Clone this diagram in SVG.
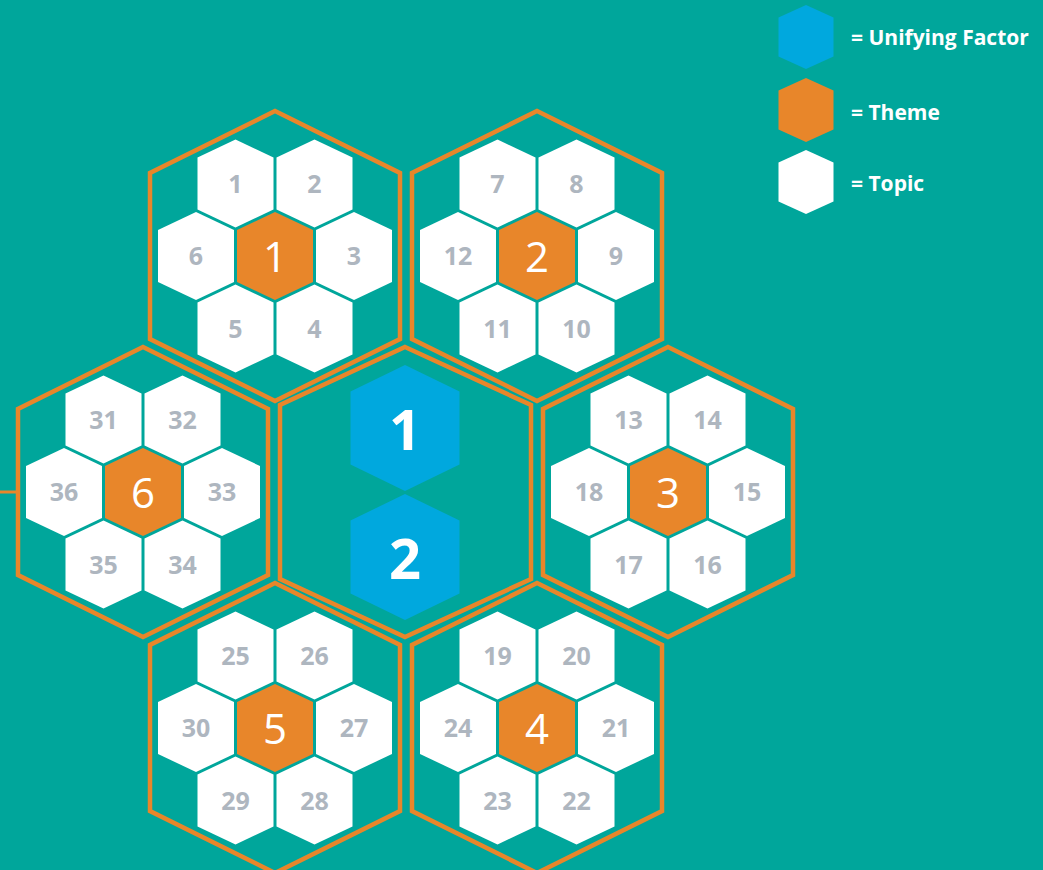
<svg xmlns="http://www.w3.org/2000/svg" xmlns:xlink="http://www.w3.org/1999/xlink" width="1043" height="870" viewBox="0 0 1043 870">
  <style>
    .frame { fill: none; stroke: #E8862A; stroke-width: 4.5; stroke-linejoin: miter; }
    .topic { fill: #FFFFFF; }
    .theme { fill: #E8862A; }
    .unify { fill: #00A8DE; }
    .tnum { font-family: "Open Sans", "Noto Sans", sans-serif; font-weight: bold; font-size: 25px; fill: #AEB6BF; text-anchor: middle; }
    .hnum { font-family: "Open Sans", "Noto Sans", sans-serif; font-weight: normal; font-size: 42px; fill: #FFFFFF; text-anchor: middle; }
    .unum { font-family: "Open Sans", "Noto Sans", sans-serif; font-weight: bold; font-size: 56px; fill: #FFFFFF; text-anchor: middle; }
    .leg { font-family: "Open Sans", "Noto Sans", sans-serif; font-weight: bold; font-size: 21px; fill: #FFFFFF; }
    .conn { stroke: #E8862A; stroke-width: 3; fill: none; }
  </style>
  <defs>
    <polygon id="big" points="0,-145 125,-83 125,83 0,145 -125,83 -125,-83"/>
    <polygon id="small" points="0,-44 38,-26 38,26 0,44 -38,26 -38,-26"/>
    <polygon id="blue" points="0,-63 54.5,-36.5 54.5,36.5 0,63 -54.5,36.5 -54.5,-36.5"/>
    <polygon id="leg" points="0,-32 27.5,-19.5 27.5,19.5 0,32 -27.5,19.5 -27.5,-19.5"/>
  </defs>
  <rect x="0" y="0" width="1043" height="870" fill="#00A69B"/>

  <g id="connectors">
    <line class="conn" x1="0" y1="492" x2="18" y2="492"/>
  </g>

  <!-- Cluster 1 -->
  <g id="cluster-1" transform="translate(275,256)">
    <use href="#big" class="frame"/>
    <use href="#small" class="topic" x="-39.5" y="-72.5"/><text class="tnum" x="-39.5" y="-63.5">1</text>
    <use href="#small" class="topic" x="39.5" y="-72.5"/><text class="tnum" x="39.5" y="-63.5">2</text>
    <use href="#small" class="topic" x="79" y="0"/><text class="tnum" x="79" y="9">3</text>
    <use href="#small" class="topic" x="39.5" y="72.5"/><text class="tnum" x="39.5" y="81.5">4</text>
    <use href="#small" class="topic" x="-39.5" y="72.5"/><text class="tnum" x="-39.5" y="81.5">5</text>
    <use href="#small" class="topic" x="-79" y="0"/><text class="tnum" x="-79" y="9">6</text>
    <use href="#small" class="theme"/><text class="hnum" x="0" y="16">1</text>
  </g>

  <!-- Cluster 2 -->
  <g id="cluster-2" transform="translate(537,256)">
    <use href="#big" class="frame"/>
    <use href="#small" class="topic" x="-39.5" y="-72.5"/><text class="tnum" x="-39.5" y="-63.5">7</text>
    <use href="#small" class="topic" x="39.5" y="-72.5"/><text class="tnum" x="39.5" y="-63.5">8</text>
    <use href="#small" class="topic" x="79" y="0"/><text class="tnum" x="79" y="9">9</text>
    <use href="#small" class="topic" x="39.5" y="72.5"/><text class="tnum" x="39.5" y="81.5">10</text>
    <use href="#small" class="topic" x="-39.5" y="72.5"/><text class="tnum" x="-39.5" y="81.5">11</text>
    <use href="#small" class="topic" x="-79" y="0"/><text class="tnum" x="-79" y="9">12</text>
    <use href="#small" class="theme"/><text class="hnum" x="0" y="16">2</text>
  </g>

  <!-- Cluster 3 -->
  <g id="cluster-3" transform="translate(668,492)">
    <use href="#big" class="frame"/>
    <use href="#small" class="topic" x="-39.5" y="-72.5"/><text class="tnum" x="-39.5" y="-63.5">13</text>
    <use href="#small" class="topic" x="39.5" y="-72.5"/><text class="tnum" x="39.5" y="-63.5">14</text>
    <use href="#small" class="topic" x="79" y="0"/><text class="tnum" x="79" y="9">15</text>
    <use href="#small" class="topic" x="39.5" y="72.5"/><text class="tnum" x="39.5" y="81.5">16</text>
    <use href="#small" class="topic" x="-39.5" y="72.5"/><text class="tnum" x="-39.5" y="81.5">17</text>
    <use href="#small" class="topic" x="-79" y="0"/><text class="tnum" x="-79" y="9">18</text>
    <use href="#small" class="theme"/><text class="hnum" x="0" y="16">3</text>
  </g>

  <!-- Cluster 4 -->
  <g id="cluster-4" transform="translate(537,728)">
    <use href="#big" class="frame"/>
    <use href="#small" class="topic" x="-39.5" y="-72.5"/><text class="tnum" x="-39.5" y="-63.5">19</text>
    <use href="#small" class="topic" x="39.5" y="-72.5"/><text class="tnum" x="39.5" y="-63.5">20</text>
    <use href="#small" class="topic" x="79" y="0"/><text class="tnum" x="79" y="9">21</text>
    <use href="#small" class="topic" x="39.5" y="72.5"/><text class="tnum" x="39.5" y="81.5">22</text>
    <use href="#small" class="topic" x="-39.5" y="72.5"/><text class="tnum" x="-39.5" y="81.5">23</text>
    <use href="#small" class="topic" x="-79" y="0"/><text class="tnum" x="-79" y="9">24</text>
    <use href="#small" class="theme"/><text class="hnum" x="0" y="16">4</text>
  </g>

  <!-- Cluster 5 -->
  <g id="cluster-5" transform="translate(275,728)">
    <use href="#big" class="frame"/>
    <use href="#small" class="topic" x="-39.5" y="-72.5"/><text class="tnum" x="-39.5" y="-63.5">25</text>
    <use href="#small" class="topic" x="39.5" y="-72.5"/><text class="tnum" x="39.5" y="-63.5">26</text>
    <use href="#small" class="topic" x="79" y="0"/><text class="tnum" x="79" y="9">27</text>
    <use href="#small" class="topic" x="39.5" y="72.5"/><text class="tnum" x="39.5" y="81.5">28</text>
    <use href="#small" class="topic" x="-39.5" y="72.5"/><text class="tnum" x="-39.5" y="81.5">29</text>
    <use href="#small" class="topic" x="-79" y="0"/><text class="tnum" x="-79" y="9">30</text>
    <use href="#small" class="theme"/><text class="hnum" x="0" y="16">5</text>
  </g>

  <!-- Cluster 6 -->
  <g id="cluster-6" transform="translate(143,492)">
    <use href="#big" class="frame"/>
    <use href="#small" class="topic" x="-39.5" y="-72.5"/><text class="tnum" x="-39.5" y="-63.5">31</text>
    <use href="#small" class="topic" x="39.5" y="-72.5"/><text class="tnum" x="39.5" y="-63.5">32</text>
    <use href="#small" class="topic" x="79" y="0"/><text class="tnum" x="79" y="9">33</text>
    <use href="#small" class="topic" x="39.5" y="72.5"/><text class="tnum" x="39.5" y="81.5">34</text>
    <use href="#small" class="topic" x="-39.5" y="72.5"/><text class="tnum" x="-39.5" y="81.5">35</text>
    <use href="#small" class="topic" x="-79" y="0"/><text class="tnum" x="-79" y="9">36</text>
    <use href="#small" class="theme"/><text class="hnum" x="0" y="16">6</text>
  </g>

  <!-- Center cluster with unifying factors -->
  <g id="center">
    <polygon class="frame" points="405,347 531,405 531,579 405,637 280,579 280,405"/>
    <g id="unifying-1">
      <use href="#blue" class="unify" x="405" y="428"/>
      <text class="unum" x="405" y="450">1</text>
    </g>
    <g id="unifying-2">
      <use href="#blue" class="unify" x="405" y="557"/>
      <text class="unum" x="405" y="579">2</text>
    </g>
  </g>

  <!-- Legend -->
  <g id="legend-unifying">
    <use href="#leg" class="unify" x="806" y="37"/>
    <text class="leg" x="851" y="45">= Unifying Factor</text>
  </g>
  <g id="legend-theme">
    <use href="#leg" class="theme" x="806" y="110"/>
    <text class="leg" x="851" y="120">= Theme</text>
  </g>
  <g id="legend-topic">
    <use href="#leg" class="topic" x="806" y="182"/>
    <text class="leg" x="851" y="191">= Topic</text>
  </g>
</svg>
